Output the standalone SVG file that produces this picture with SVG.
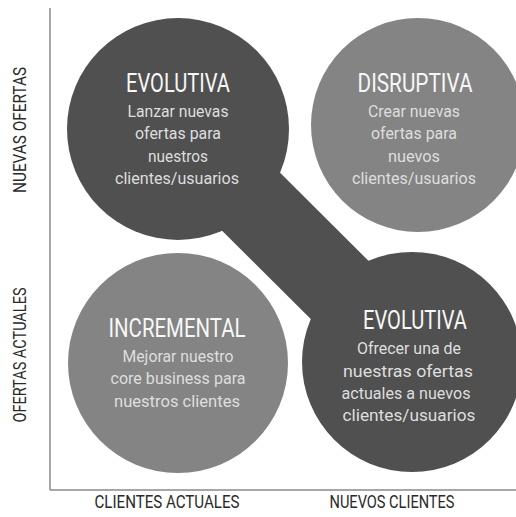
<svg xmlns="http://www.w3.org/2000/svg" width="516" height="517" viewBox="0 0 516 517">
<style>
.dark{fill:#505050}
.light{fill:#848484}
.title{font-family:Roboto,"Liberation Sans",sans-serif;font-size:25px;fill:#f7f7f7;text-anchor:middle}
.body{font-family:Roboto,"Liberation Sans",sans-serif;font-size:17px;fill:#dedede;text-anchor:middle}
.axis{font-family:Roboto,"Liberation Sans",sans-serif;font-size:18px;fill:#2a2a2a;text-anchor:middle}
</style>
<rect width="516" height="517" fill="#ffffff"/>
<g id="axes" stroke="#8a8a8a" stroke-width="1.5" fill="none">
<line x1="50" y1="8" x2="50" y2="490"/>
<line x1="50" y1="490" x2="516" y2="490"/>
</g>
<g id="connectors">
<line x1="178" y1="129" x2="412" y2="362" stroke="#505050" stroke-width="82"/>
</g>
<g id="evolutiva-top">
<circle class="dark" cx="178" cy="129" r="111"/>
<text class="title" x="178" y="92" textLength="104" lengthAdjust="spacingAndGlyphs">EVOLUTIVA</text>
<text class="body" x="178" y="117" textLength="101" lengthAdjust="spacingAndGlyphs">Lanzar nuevas</text>
<text class="body" x="178" y="139" textLength="86" lengthAdjust="spacingAndGlyphs">ofertas para</text>
<text class="body" x="178" y="162" textLength="60" lengthAdjust="spacingAndGlyphs">nuestros</text>
<text class="body" x="177" y="184" textLength="124" lengthAdjust="spacingAndGlyphs">clientes/usuarios</text>
</g>
<g id="disruptiva">
<circle class="light" cx="418" cy="125" r="107"/>
<text class="title" x="415" y="92" textLength="115" lengthAdjust="spacingAndGlyphs">DISRUPTIVA</text>
<text class="body" x="414" y="117" textLength="92" lengthAdjust="spacingAndGlyphs">Crear nuevas</text>
<text class="body" x="414" y="139" textLength="86" lengthAdjust="spacingAndGlyphs">ofertas para</text>
<text class="body" x="414" y="162" textLength="52" lengthAdjust="spacingAndGlyphs">nuevos</text>
<text class="body" x="414" y="184" textLength="124" lengthAdjust="spacingAndGlyphs">clientes/usuarios</text>
</g>
<g id="incremental">
<circle class="light" cx="178" cy="363" r="110"/>
<text class="title" x="177" y="337" textLength="137" lengthAdjust="spacingAndGlyphs">INCREMENTAL</text>
<text class="body" x="178" y="362" textLength="111" lengthAdjust="spacingAndGlyphs">Mejorar nuestro</text>
<text class="body" x="178" y="384" textLength="135" lengthAdjust="spacingAndGlyphs">core business para</text>
<text class="body" x="177" y="407" textLength="126" lengthAdjust="spacingAndGlyphs">nuestros clientes</text>
</g>
<g id="evolutiva-bottom">
<circle class="dark" cx="412" cy="362" r="110"/>
<text class="title" x="415" y="329" textLength="104" lengthAdjust="spacingAndGlyphs">EVOLUTIVA</text>
<text class="body" x="409" y="354" textLength="104" lengthAdjust="spacingAndGlyphs">Ofrecer una de</text>
<text class="body" x="408" y="377" textLength="130" lengthAdjust="spacingAndGlyphs">nuestras ofertas</text>
<text class="body" x="406" y="399" textLength="129" lengthAdjust="spacingAndGlyphs">actuales a nuevos</text>
<text class="body" x="409" y="421" textLength="133" lengthAdjust="spacingAndGlyphs">clientes/usuarios</text>
</g>
<g id="axis-labels">
<text class="axis" transform="translate(26,130) rotate(-90)" textLength="126" lengthAdjust="spacingAndGlyphs">NUEVAS OFERTAS</text>
<text class="axis" transform="translate(26,355) rotate(-90)" textLength="135" lengthAdjust="spacingAndGlyphs">OFERTAS ACTUALES</text>
<text class="axis" x="167" y="508" textLength="145" lengthAdjust="spacingAndGlyphs">CLIENTES ACTUALES</text>
<text class="axis" x="392" y="508" textLength="125" lengthAdjust="spacingAndGlyphs">NUEVOS CLIENTES</text>
</g>
</svg>
